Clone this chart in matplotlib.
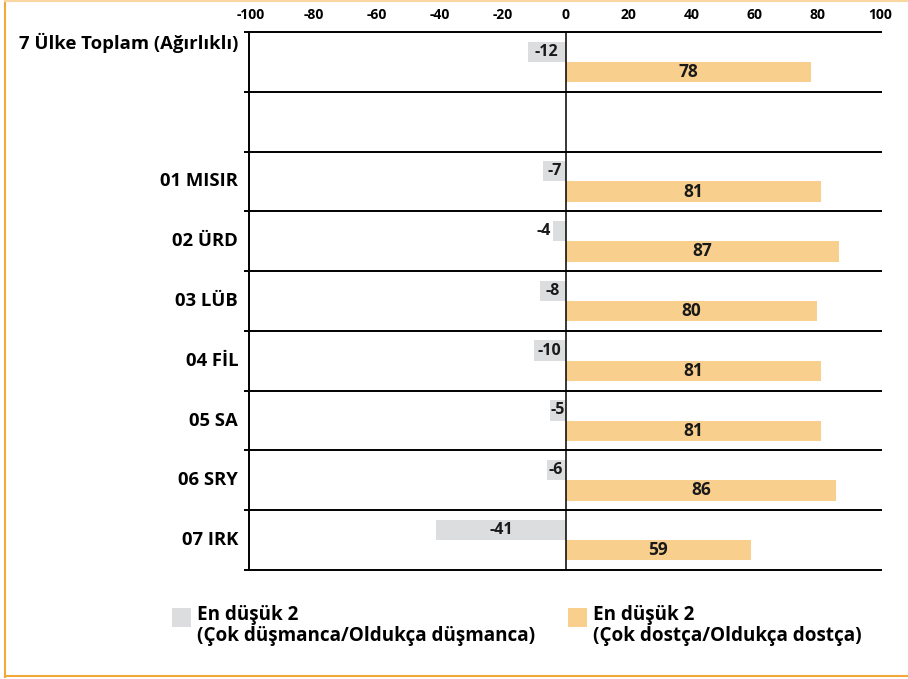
import matplotlib as mpl
import matplotlib.pyplot as plt
from matplotlib.lines import Line2D
from matplotlib.patches import Rectangle
from matplotlib import transforms
import numpy as np

categories = [
    "7 Ülke Toplam (Ağırlıklı)",
    "",
    "01 MISIR",
    "02 ÜRD",
    "03 LÜB",
    "04 FİL",
    "05 SA",
    "06 SRY",
    "07 IRK",
]
hostile = [-12, np.nan, -7, -4, -8, -10, -5, -6, -41]
friendly = [78, np.nan, 81, 87, 80, 81, 81, 86, 59]
xticks = [-100, -80, -60, -40, -20, 0, 20, 40, 60, 80, 100]
legend_labels = [
    "En düşük 2\n(Çok düşmanca/Oldukça düşmanca)",
    "En düşük 2\n(Çok dostça/Oldukça dostça)",
]

GREY = "#DCDDDF"
ORANGE = "#F9CF8D"
BORDER = "#F3A93A"
W = "bold"

mpl.rcParams.update(
    {
        "font.family": ["Open Sans", "DejaVu Sans"],
        "font.weight": W,
        "axes.unicode_minus": False,
    }
)

fig = plt.figure(figsize=(9.08, 6.79), dpi=100)
ax = fig.add_axes([249 / 908, 1 - 570 / 679, 633 / 908, 538 / 679])

n = len(categories)
y = np.arange(n) + 0.5
h = np.array(hostile, dtype=float)
f = np.array(friendly, dtype=float)

ax.barh(y - 0.17, h, height=0.34, color=GREY, lw=0)
ax.barh(y + 0.17, f, height=0.34, color=ORANGE, lw=0)

for yi, v in zip(y, h):
    if np.isnan(v):
        continue
    if abs(v) < 5:
        ax.text(v - 0.5, yi - 0.17, f"{v:.0f}", ha="right", va="center",
                fontsize=11.5, fontweight=W, color="#1a1a1a")
    else:
        ax.text(v / 2, yi - 0.17, f"{v:.0f}", ha="center", va="center",
                fontsize=11.5, fontweight=W, color="#1a1a1a")

for yi, v in zip(y, f):
    if np.isnan(v):
        continue
    ax.text(v / 2, yi + 0.17, f"{v:.0f}", ha="center", va="center",
            fontsize=12.5, fontweight=W, color="#1a1a1a")

ax.set_xlim(-100.5, 100.5)
ax.set_ylim(n, 0)
ax.hlines(np.arange(n + 1), -102.2, 100.5, color="black", lw=1.4, clip_on=False)
ax.axvline(0, color="black", lw=1.1)

for s in ["top", "right", "bottom"]:
    ax.spines[s].set_visible(False)
ax.spines["left"].set_linewidth(1.4)

ax.xaxis.tick_top()
ax.set_xticks(xticks)
ax.set_xticklabels([str(t) for t in xticks], fontsize=10, fontweight=W)
ax.tick_params(axis="x", length=0, pad=7)
ax.set_yticks([])

trans = transforms.blended_transform_factory(ax.transAxes, ax.transData)
for i, (yi, lab) in enumerate(zip(y, categories)):
    if not lab:
        continue
    if i == 0:
        ax.text(-0.017, 0.02, lab, transform=trans, ha="right", va="top",
                fontsize=13.3, fontweight=W)
    else:
        ax.text(-0.017, yi, lab, transform=trans, ha="right", va="center",
                fontsize=13.3, fontweight=W)

# legend
for x0, col, lab in zip([172 / 908, 568 / 908], [GREY, ORANGE], legend_labels):
    fig.add_artist(Rectangle((x0, 1 - 627 / 679), 19 / 908, 19 / 679,
                             transform=fig.transFigure, color=col, lw=0))
    fig.text(x0 + 25 / 908, 1 - 605 / 679, lab, ha="left", va="top",
             fontsize=13.6, fontweight=W, linespacing=1.1)

# frame
fig.add_artist(Line2D([5 / 908, 5 / 908], [0.003, 1], transform=fig.transFigure,
                      color=BORDER, lw=1.5))
fig.add_artist(Line2D([5 / 908, 1], [0.004, 0.004], transform=fig.transFigure,
                      color=BORDER, lw=1.5))
fig.add_artist(Line2D([5 / 908, 1], [0.999, 0.999], transform=fig.transFigure,
                      color="#FAD7A0", lw=1.5))

fig.savefig("out.png", dpi=100, facecolor="white")
